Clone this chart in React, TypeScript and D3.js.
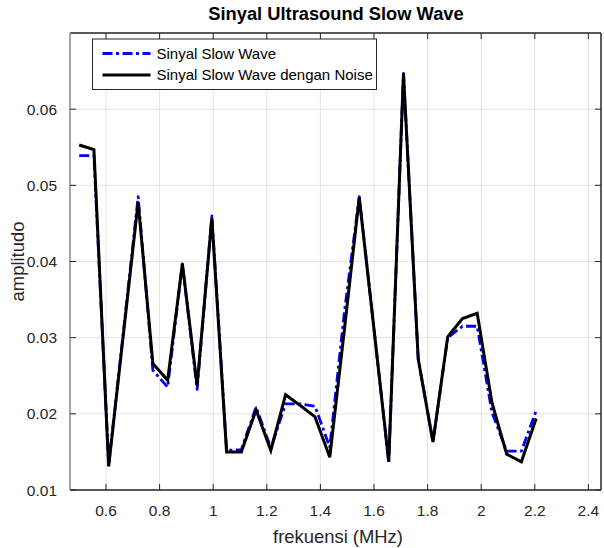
import React from "react";
import { scaleLinear, line } from "d3";

// frequencies (MHz)
const freq = [
  0.5, 0.555, 0.61, 0.665, 0.72, 0.775, 0.83, 0.885, 0.94, 0.995, 1.05, 1.105,
  1.16, 1.215, 1.27, 1.325, 1.38, 1.435, 1.49, 1.545, 1.6, 1.655, 1.71, 1.765,
  1.82, 1.875, 1.93, 1.985, 2.04, 2.095, 2.15, 2.205,
];

// clean slow wave
const slowWave = [
  0.0539, 0.0539, 0.0133, 0.0308, 0.0485, 0.0257, 0.0235, 0.0397, 0.0232,
  0.046, 0.0152, 0.0153, 0.0209, 0.0155, 0.0213, 0.0213, 0.021, 0.0156, 0.0335,
  0.0485, 0.0311, 0.0137, 0.0647, 0.0272, 0.0163, 0.03, 0.0315, 0.0315, 0.0202,
  0.0151, 0.0151, 0.0204,
];

// slow wave with noise
const noisyWave = [
  0.0553, 0.0547, 0.0131, 0.0305, 0.0478, 0.0266, 0.0244, 0.0397, 0.0237,
  0.0457, 0.015, 0.015, 0.0205, 0.0152, 0.0225, 0.0211, 0.0196, 0.0143, 0.0312,
  0.0484, 0.0311, 0.0137, 0.0647, 0.0272, 0.0163, 0.0301, 0.0325, 0.0332,
  0.0215, 0.0147, 0.0137, 0.0194,
];

const xTicks = [0.6, 0.8, 1, 1.2, 1.4, 1.6, 1.8, 2, 2.2, 2.4];
const yTicks = [0.01, 0.02, 0.03, 0.04, 0.05, 0.06, 0.07];

const legendLabels = ["Sinyal Slow Wave", "Sinyal Slow Wave dengan Noise"];

const W = 604;
const H = 548;
const left = 70;
const right = 601;
const top = 33;
const bottom = 490;
const font = "'Liberation Sans', Arial, Helvetica, sans-serif";

export default function App() {
  const x = scaleLinear().domain([0.4657, 2.447]).range([left, right]);
  const y = scaleLinear().domain([0.01, 0.07]).range([bottom, top]);

  const path = line<number>()
    .x((_, i) => x(freq[i]))
    .y((d) => y(d));

  const blueDash = "10,3.5,3,3.5";

  return (
    <svg
      width={W}
      height={H}
      style={{ position: "absolute", left: 0, top: 0, background: "#fff" }}
      fontFamily={font}
    >
      <rect x={0} y={0} width={W} height={H} fill="#fff" />

      {/* grid */}
      {xTicks.map((t, i) => (
        <line key={"gx" + i} x1={x(t)} x2={x(t)} y1={top} y2={bottom} stroke="#e3e3e3" strokeWidth={1} />
      ))}
      {yTicks.map((t, i) => (
        <line key={"gy" + i} x1={left} x2={right} y1={y(t)} y2={y(t)} stroke="#e3e3e3" strokeWidth={1} />
      ))}

      {/* series */}
      <path d={path(slowWave) || ""} fill="none" stroke="#0000ff" strokeWidth={2.8} strokeDasharray={blueDash} strokeLinejoin="round" />
      <path d={path(noisyWave) || ""} fill="none" stroke="#000" strokeWidth={3} strokeLinejoin="miter" />

      {/* axes box */}
      <line x1={left} x2={right} y1={bottom} y2={bottom} stroke="#262626" strokeWidth={1.5} />
      <line x1={left} x2={right} y1={top} y2={top} stroke="#262626" strokeWidth={1.5} />
      <line x1={left} x2={left} y1={top} y2={bottom} stroke="#a6a6a6" strokeWidth={2} />
      <line x1={right} x2={right} y1={top} y2={bottom} stroke="#262626" strokeWidth={1.5} />

      {xTicks.map((t, i) => (
        <g key={"xt" + i}>
          <line x1={x(t)} x2={x(t)} y1={bottom} y2={bottom - 6} stroke="#262626" strokeWidth={1} />
          <line x1={x(t)} x2={x(t)} y1={top} y2={top + 6} stroke="#262626" strokeWidth={1} />
          <text x={x(t)} y={bottom + 26} textAnchor="middle" fontSize={15.5} fill="#262626">
            {t}
          </text>
        </g>
      ))}
      {yTicks.slice(0, 6).map((t, i) => (
        <g key={"yt" + i}>
          <line x1={left} x2={left + 6} y1={y(t)} y2={y(t)} stroke="#262626" strokeWidth={1} />
          <line x1={right} x2={right - 6} y1={y(t)} y2={y(t)} stroke="#262626" strokeWidth={1} />
          <text x={left - 13} y={y(t) + 5.5} textAnchor="end" fontSize={15.5} fill="#262626">
            {t}
          </text>
        </g>
      ))}

      {/* labels */}
      <text x={336} y={20} textAnchor="middle" fontSize={18.3} fontWeight="bold" fill="#000">
        Sinyal Ultrasound Slow Wave
      </text>
      <text x={338} y={543} textAnchor="middle" fontSize={18.4} fill="#262626">
        frekuensi (MHz)
      </text>
      <text transform={`translate(24, ${(top + bottom) / 2}) rotate(-90)`} textAnchor="middle" fontSize={18.4} fill="#262626">
        amplitudo
      </text>

      {/* legend */}
      <rect x={92.5} y={39} width={284} height={50.5} fill="#fff" stroke="#262626" strokeWidth={1} />
      {legendLabels.map((lab, i) => (
        <g key={"lg" + i} transform={`translate(0, ${53.5 + i * 21.5})`}>
          <line
            x1={102.5}
            x2={150.5}
            y1={0}
            y2={0}
            stroke={i === 0 ? "#0000ff" : "#000"}
            strokeWidth={i === 0 ? 2.8 : 3}
            strokeDasharray={i === 0 ? blueDash : undefined}
          />
          <text x={156.5} y={5} fontSize={15} fill="#000">
            {lab}
          </text>
        </g>
      ))}
    </svg>
  );
}
